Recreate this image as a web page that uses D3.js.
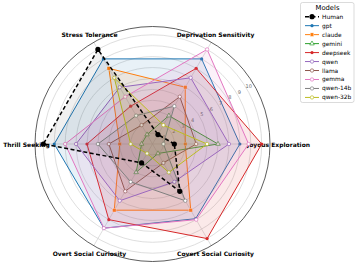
<!DOCTYPE html>
<html><head><meta charset="utf-8">
<script src="https://cdn.jsdelivr.net/npm/d3@7"></script>
<style>body{margin:0;background:#fff}svg{display:block}text{font-family:"DejaVu Sans",sans-serif}</style>
</head><body><svg id="c" width="357" height="267"></svg>
<script>
const axes = ["Joyous Exploration","Deprivation Sensitivity","Stress Tolerance","Thrill Seeking","Overt Social Curiosity","Covert Social Curiosity"];
const models = ["Human","gpt","claude","gemini","deepseek","qwen","llama","gemma","qwen-14b","qwen-32b"];
const human    = [2, 1, 10, 10, 2, 5];
const gpt      = [8, 9, 9, 9, 8.9, 7.9];
const claude   = [3, 6, 8, 3, 7, 7];
const gemini   = [6, 3, 1, 1, 3, 1];
const deepseek = [10, 8, 4, 6, 8, 10];
const qwen     = [7, 7, 6, 7, 6, 4];
const llama    = [4, 5, 2, 4, 5, 2];
const gemma    = [8.8, 10, 5, 8, 8.9, 8];
const qwen14b  = [1, 4, 3, 5, 4, 6];
const qwen32b  = [5, 2, 7, 2, 1, 3];
const radialTicks = [1,2,3,4,5,6,7,8,9,10];
const seriesValues = [human,gpt,claude,gemini,deepseek,qwen,llama,gemma,qwen14b,qwen32b];
const colors = ["#000000","#1f77b4","#ff7f0e","#2ca02c","#d62728","#9467bd","#8c564b","#e377c2","#7f7f7f","#bcbd22"];
const markers = ["bigdot","dot","square","tri","dot","open","open","open","open","open"];

const svg = d3.select("#c");
const cx = 152.5, cy = 144, R = 117.5;
const r = d3.scaleLinear().domain([0, 10.76]).range([0, R]);
const ang = d3.scalePoint().domain(d3.range(axes.length)).range([0, 2*Math.PI*5/6]); // theta ccw from +x
const g = svg.append("g").attr("transform", `translate(${cx},${cy})`);
const px = (i,v) => r(v)*Math.cos(ang(i));
const py = (i,v) => -r(v)*Math.sin(ang(i));

// grid
g.selectAll("circle.grid").data(radialTicks).join("circle")
  .attr("r", d=>r(d)).attr("fill","none").attr("stroke","#d0d0d0").attr("stroke-width",0.7);
g.selectAll("line.spoke").data(axes).join("line")
  .attr("x1",0).attr("y1",0).attr("x2",(d,i)=>px(i,10.76)).attr("y2",(d,i)=>py(i,10.76))
  .attr("stroke","#d0d0d0").attr("stroke-width",0.7);
g.append("circle").attr("r",R).attr("fill","none").attr("stroke","#333").attr("stroke-width",0.8);

// radial tick labels
const la = 31*Math.PI/180;
g.selectAll("text.rt").data(radialTicks).join("text")
  .attr("x", d=>(r(d)+3)*Math.cos(la)).attr("y", d=>-(r(d)+3)*Math.sin(la))
  .attr("text-anchor","middle").attr("dominant-baseline","central")
  .attr("font-size",5).attr("fill","#666").text(d=>d);

// axis labels
g.selectAll("text.ax").data(axes).join("text")
  .attr("x",(d,i)=>126*Math.cos(ang(i))).attr("y",(d,i)=>-126*Math.sin(ang(i)))
  .attr("text-anchor","middle").attr("dominant-baseline","central")
  .attr("font-size",6).attr("font-weight","bold").attr("fill","#000").text(d=>d);

const line = d3.lineRadial().angle((d,i)=>Math.PI/2 - ang(i)).radius(d=>r(d)).curve(d3.curveLinearClosed);

function drawMarker(sel, type, color){
  if(type==="square"){
    sel.append("rect").attr("x",-1.8).attr("y",-1.8).attr("width",3.6).attr("height",3.6)
      .attr("fill",color).attr("stroke","#fff").attr("stroke-width",0.4);
  } else if(type==="tri"){
    sel.append("path").attr("d",d3.symbol(d3.symbolTriangle,9)()).attr("fill","#fff").attr("stroke",color).attr("stroke-width",0.7);
  } else if(type==="bigdot"){
    sel.append("circle").attr("r",2.6).attr("fill",color);
  } else if(type==="dot"){
    sel.append("circle").attr("r",1.6).attr("fill",color);
  } else {
    sel.append("circle").attr("r",1.7).attr("fill","#fff").attr("stroke",color).attr("stroke-width",0.7);
  }
}

const order = [1,2,3,4,5,6,7,8,9,0];
order.forEach(k=>{
  const vals = seriesValues[k], col = colors[k];
  const sg = g.append("g");
  sg.append("path").attr("d", line(vals)).attr("fill",col).attr("fill-opacity", k===0?0.06:0.1)
    .attr("stroke",col).attr("stroke-width", k===0?1.5:1)
    .attr("stroke-dasharray", k===0?"4,2.5":null);
  vals.forEach((v,i)=>{
    const m = sg.append("g").attr("transform",`translate(${px(i,v)},${py(i,v)})`);
    drawMarker(m, markers[k], col);
  });
});

// legend
const L = svg.append("g");
L.append("rect").attr("x",300.5).attr("y",2.5).attr("width",53.5).attr("height",100).attr("rx",2)
  .attr("fill","#fff").attr("fill-opacity",0.85).attr("stroke","#ccc").attr("stroke-width",0.7);
L.append("text").attr("x",327.5).attr("y",8).attr("text-anchor","middle").attr("dominant-baseline","central")
  .attr("font-size",6.8).text("Models");
models.forEach((m,k)=>{
  const y = 16.7 + k*8.97;
  L.append("line").attr("x1",305).attr("x2",319).attr("y1",y).attr("y2",y)
    .attr("stroke",colors[k]).attr("stroke-width",k===0?1.5:1).attr("stroke-dasharray",k===0?"4,2.5":null);
  const mg = L.append("g").attr("transform",`translate(312,${y})`);
  drawMarker(mg, markers[k], colors[k]);
  L.append("text").attr("x",322).attr("y",y).attr("dominant-baseline","central").attr("font-size",5.9).text(m);
});
</script></body></html>
